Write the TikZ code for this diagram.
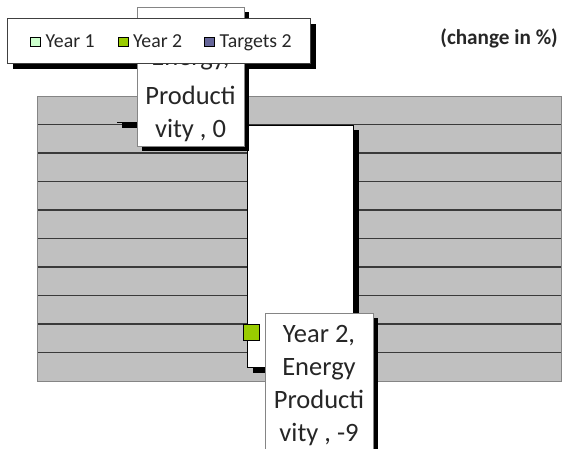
\documentclass[tikz,border=0pt]{standalone}
\usepackage{fontspec}
\setmainfont{Carlito}
\definecolor{plotgray}{HTML}{C0C0C0}
\definecolor{gridc}{HTML}{3A3A3A}
\definecolor{borderc}{HTML}{858585}
\definecolor{yearone}{HTML}{CCFFCC}
\definecolor{yeartwo}{HTML}{99CC00}
\definecolor{targets}{HTML}{666699}
\begin{document}
\begin{tikzpicture}[x=1pt,y=-1pt,
  gridline/.style={draw=gridc,line width=1.1pt},
  shadowbox/.style={fill=black},
  labelbox/.style={draw=borderc,fill=white,line width=0.9pt,inner sep=0pt,outer sep=0pt,anchor=north west},
  labeltext/.style={align=center,anchor=base,inner sep=0pt,font=\fontsize{26.5}{32.8}\selectfont,text=black!85},
  legtext/.style={anchor=base west,inner sep=0pt,font=\fontsize{19.8}{23}\selectfont,text=black!85},
  legmark/.style={draw=black,line width=0.9pt,minimum size=9.5pt,inner sep=0pt,anchor=north west}]
\useasboundingbox (0,0) rectangle (562,448);
% plot area
\node[fill=plotgray,draw=borderc,line width=1pt,inner sep=0pt,anchor=north west,minimum width=524pt,minimum height=285pt] (plot) at (37,96) {};
\foreach \yy in {124.5,153,181.5,210,238.5,267,295.5,324,352.5}
  \draw[gridline] (37.5,\yy) -- (560.5,\yy);
% Year 1 bar at zero
\coordinate (y1a) at (117,122);
\coordinate (y1b) at (137,122);
\draw[line width=1pt] (y1a) -- (y1b);
\fill[shadowbox] (122,122) rectangle (137,127.5);
% Year 2 bar
\fill[shadowbox] (253,130) rectangle (359,372.5);
\node[draw=black,fill=white,line width=1.1pt,inner sep=0pt,anchor=north west,minimum width=106pt,minimum height=242pt] (bar2) at (247,125) {};
% legend shadow
\fill[shadowbox] (13,24) rectangle (316,69);
% top label
\fill[shadowbox] (142,12) rectangle (249,151);
\node[labelbox,minimum width=107pt,minimum height=139pt] (lab1) at (137,7) {};
\node[labeltext] (lab1t) at (190.5,137) {Energy,\\[6pt]Producti\\vity , 0};
% legend
\node[draw=black!75,fill=white,line width=0.9pt,inner sep=0pt,anchor=north west,minimum width=303pt,minimum height=45pt] (legend) at (7,18) {};
\node[legmark,fill=yearone] (m1) at (30,36.5) {};
\node[legtext] (t1) at (45.5,47) {Year 1};
\node[legmark,fill=yeartwo] (m2) at (118,36.5) {};
\node[legtext] (t2) at (133,47) {Year 2};
\node[legmark,fill=targets] (m3) at (204,36.5) {};
\node[legtext] (t3) at (219.5,47) {Targets 2};
% unit
\node[anchor=base east,inner sep=0pt,font=\bfseries\fontsize{21.2}{25}\selectfont,text=black!85] (unit) at (558,44) {(change in \%)};
% marker on bar
\node[draw=black,fill=yeartwo,line width=1pt,minimum width=16pt,minimum height=16.5pt,inner sep=0pt] (mk) at (251,332.5) {};
% bottom label
\fill[shadowbox] (270,318) rectangle (378,460);
\node[labelbox,minimum width=108pt,minimum height=142pt] (lab2) at (265,313) {};
\node[labeltext] (lab2t) at (319,441) {Year 2,\\Energy\\Producti\\vity , -9};
\end{tikzpicture}
\end{document}
